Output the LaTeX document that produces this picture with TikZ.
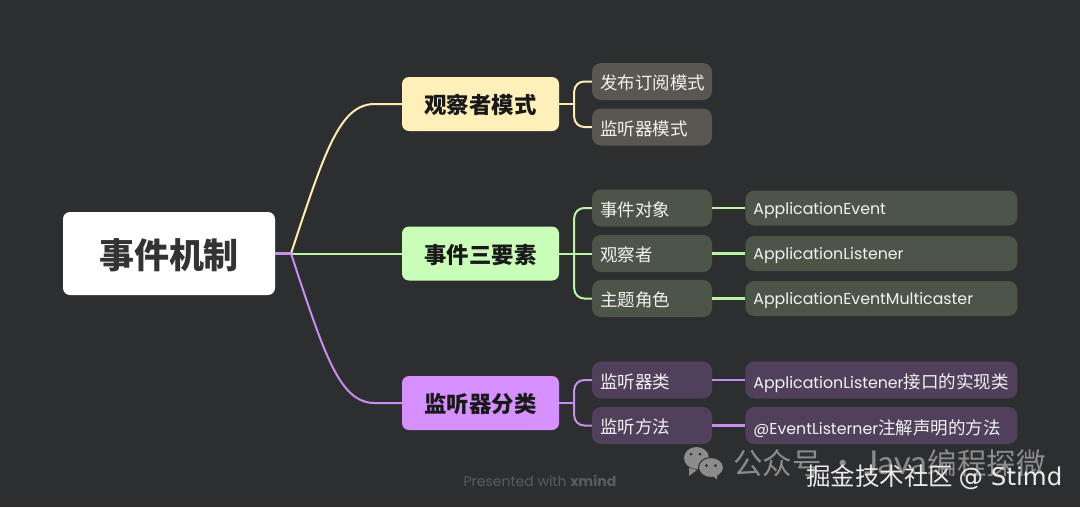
\documentclass[tikz,border=0pt]{standalone}
\usepackage{fontspec}
\setmainfont{Poppins}
\newfontfamily\cjk{Noto Sans CJK SC}
\newfontfamily\dejavu{DejaVu Sans}
\newfontfamily\lato{Lato}
\usepackage{xcolor}
\usetikzlibrary{positioning,shapes.geometric}
\definecolor{canvas}{HTML}{2D2E30}
\definecolor{yline}{HTML}{FFEDB0}
\definecolor{gline}{HTML}{B9F5A5}
\definecolor{pline}{HTML}{CB8CF2}
\definecolor{yfill}{HTML}{FFEFB9}
\definecolor{gfill}{HTML}{C9FFB8}
\definecolor{pfill}{HTML}{D690FF}
\definecolor{ysub}{HTML}{5A5750}
\definecolor{gsub}{HTML}{4D5549}
\definecolor{psub}{HTML}{50405C}
\definecolor{wmgray}{HTML}{8C8C8C}

\begin{document}
\begin{tikzpicture}[
  x=1pt, y=-1pt,
  rootbox/.style={rectangle, fill=white, rounded corners=7pt, minimum width=212pt, minimum height=83pt, text height=33.6pt, text depth=4pt, text=black!80, font=\cjk\bfseries\fontsize{35}{35}\selectfont},
  mainbox/.style={rectangle, rounded corners=7pt, minimum width=157pt, minimum height=54pt, text height=22pt, text depth=3pt, text=black!90, font=\cjk\bfseries\fontsize{22.4}{24}\selectfont},
  subbox/.style={rectangle, rounded corners=9pt, minimum width=120pt, minimum height=37pt, inner xsep=8pt, text width=104pt, text height=18.2pt, text depth=2pt, align=left, text=white!95!black, font=\cjk\fontsize{17.5}{20}\selectfont},
  leafbox/.style={rectangle, rounded corners=9pt, minimum width=272pt, minimum height=35pt, inner xsep=8pt, text width=256pt, text height=15.6pt, text depth=3pt, align=left, text=white!95!black, font=\fontsize{15.8}{20}\selectfont},
  purpleleaf/.style={leafbox, fill=psub, minimum height=37pt, text height=20pt},
  link/.style={line width=2pt, rounded corners=10pt},
  leaflink/.style={line width=2.4pt},
  bubble/.style={ellipse, fill=wmgray, inner sep=0pt},
  eye/.style={circle, fill=canvas, inner sep=0pt, minimum size=3pt}
]
  \useasboundingbox[fill=canvas] (0,0) rectangle (1080,507);

  % Root and main branches
  \node[rootbox] (root) at (169,253.5) {事件机制};
  \node[mainbox, fill=yfill] (observer) at (480.5,104) {观察者模式};
  \node[mainbox, fill=gfill] (factors) at (480.5,253.5) {事件三要素};
  \node[mainbox, fill=pfill] (kinds) at (480.5,403) {监听器分类};

  % Second level
  \node[subbox, fill=ysub] (pubsub) at (652,81.5) {发布订阅模式};
  \node[subbox, fill=ysub] (listenmode) at (652,127) {监听器模式};
  \node[subbox, fill=gsub] (eventobj) at (652,208) {事件对象};
  \node[subbox, fill=gsub] (watcher) at (652,253.5) {观察者};
  \node[subbox, fill=gsub] (subject) at (652,298.5) {主题角色};
  \node[subbox, fill=psub] (listenclass) at (652,380) {监听器类};
  \node[subbox, fill=psub] (listenmethod) at (652,425.5) {监听方法};

  % Third level
  \node[leafbox, fill=gsub, right=33pt of eventobj] (appevent) {ApplicationEvent};
  \node[leafbox, fill=gsub, right=33pt of watcher] (applistener) {ApplicationListener};
  \node[leafbox, fill=gsub, right=33pt of subject] (appcaster) {ApplicationEventMulticaster};
  \node[purpleleaf, right=33pt of listenclass] (implclass) {ApplicationListener{\cjk\fontsize{17.5}{20}\selectfont 接口的实现类}};
  \node[purpleleaf, right=33pt of listenmethod] (annomethod) {@EventListerner{\cjk\fontsize{17.5}{20}\selectfont 注解声明的方法}};

  % Branches from the root
  \coordinate (hub) at (291,253.5);
  \draw[link, yline] (hub) .. controls +(34,-103) and +(-45,0) .. ([xshift=-17pt]observer.west) -- (observer.west);
  \draw[link, gline] (hub) -- (factors.west);
  \draw[link, pline] (hub) .. controls +(34,103) and +(-45,0) .. ([xshift=-17pt]kinds.west) -- (kinds.west);
  \draw[line width=3pt, pline] (root.east) -- (hub);

  % Brackets
  \coordinate (ybar) at ([xshift=15pt]observer.east);
  \coordinate (gbar) at ([xshift=15pt]factors.east);
  \coordinate (pbar) at ([xshift=15pt]kinds.east);
  \draw[link, yline] (observer.east) -- (ybar);
  \draw[link, yline] (pubsub.west) -| (ybar) |- (listenmode.west);
  \draw[link, gline] (factors.east) -- (watcher.west);
  \draw[link, gline] (eventobj.west) -| (gbar) |- (subject.west);
  \draw[link, pline] (kinds.east) -- (pbar);
  \draw[link, pline] (listenclass.west) -| (pbar) |- (listenmethod.west);

  % Leaves
  \draw[leaflink, gline] (eventobj) -- (appevent);
  \draw[leaflink, gline] (watcher) -- (applistener);
  \draw[leaflink, gline] (subject) -- (appcaster);
  \draw[leaflink, pline] (listenclass) -- (implclass);
  \draw[leaflink, pline] (listenmethod) -- (annomethod);

  % Footer
  \node[text=white!22!canvas, font=\fontsize{14}{16}\selectfont] (credit) at (540,481) {Presented with \textbf{xmind}};

  % Watermark icon
  \fill[wmgray] (689,468) -- (689,476) -- (697,470) -- cycle;
  \node[bubble, minimum width=25pt, minimum height=22pt] (bigbubble) at (696.5,458) {};
  \node[bubble, draw=canvas, line width=1pt, minimum width=25pt, minimum height=20pt] (smallbubble) at (711,467.5) {};
  \fill[wmgray] (713,476) -- (717,479.5) -- (717,474) -- cycle;
  \node[eye] at (691,454) {};
  \node[eye] at (700,454) {};
  \node[eye] at (706.5,465.5) {};
  \node[eye] at (715.5,465.5) {};

  % Watermark text
  \node[anchor=west, inner sep=0pt, text=wmgray, font=\cjk\fontsize{29.5}{32}\selectfont] (account) at (733,463.5) {公众号 · {\lato\fontsize{33}{32}\selectfont Java}\hspace{1pt}编程探微};
  \node[anchor=west, inner sep=0pt, text=white!92!black, font=\cjk\fontsize{24.5}{28}\selectfont] (juejin) at (806,477.5) {掘金技术社区 {\dejavu @ Stimd}};
\end{tikzpicture}
\end{document}
